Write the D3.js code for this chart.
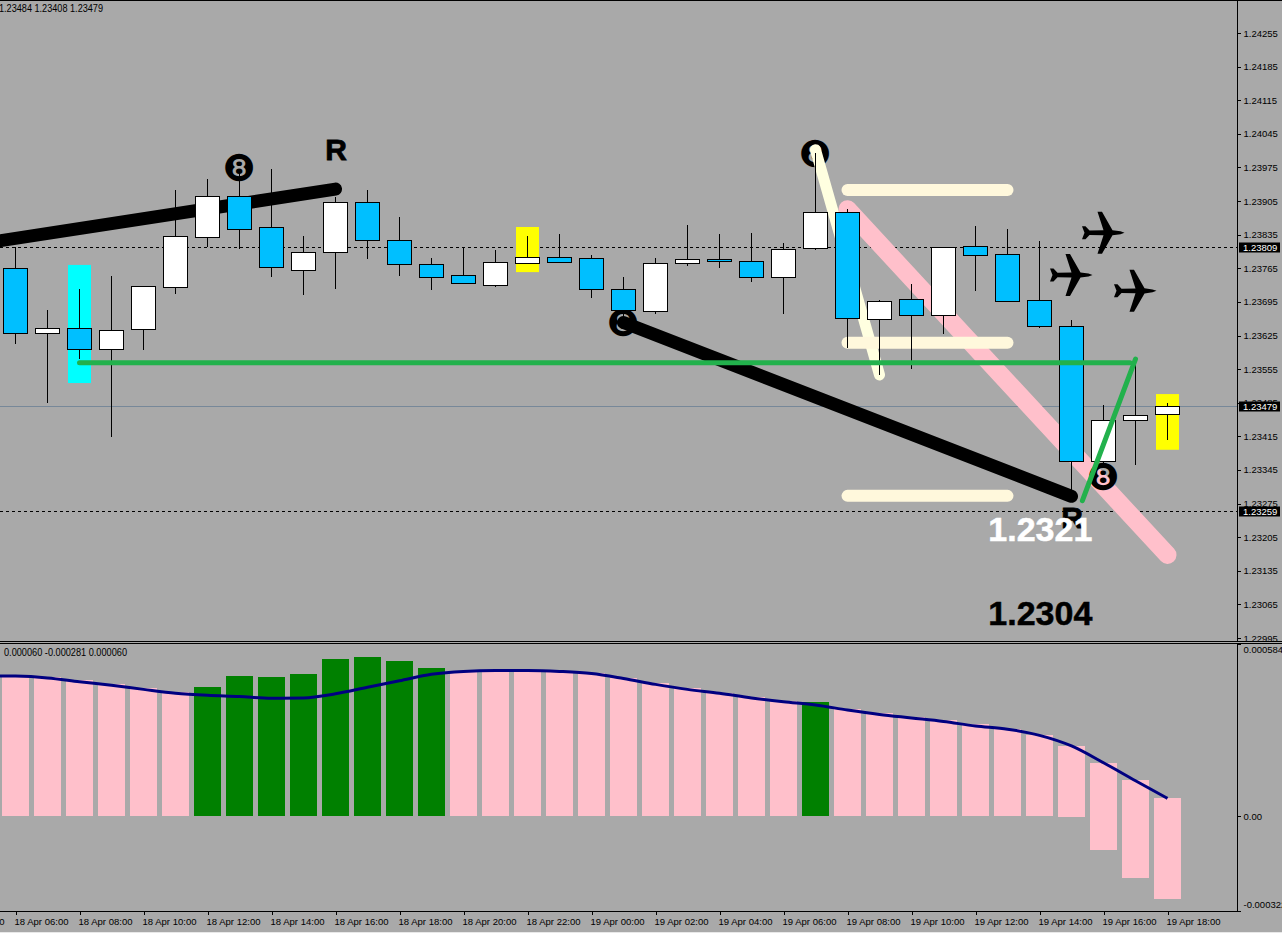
<!DOCTYPE html>
<html><head><meta charset="utf-8">
<script src="https://cdnjs.cloudflare.com/ajax/libs/d3/7.8.5/d3.min.js"></script>
<style>html,body{margin:0;padding:0;background:#A9A9A9;overflow:hidden}svg{display:block}</style>
</head><body><div id="c"></div>
<script>
const opens  = [1.23766,1.23630,1.23641,1.23597,1.23639,1.23726,1.23830,1.23915,1.23851,1.23761,1.23799,1.23903,1.23824,1.23774,1.23751,1.23730,1.23776,1.23788,1.23786,1.23722,1.23676,1.23776,1.23784,1.23780,1.23747,1.23807,1.23882,1.23659,1.23701,1.23668,1.23811,1.23795,1.23699,1.23645,1.23364,1.23449,1.23462];
const highs  = [1.23809,1.23678,1.23722,1.23749,1.23728,1.23928,1.23951,1.23965,1.23971,1.23832,1.23913,1.23928,1.23872,1.23786,1.23809,1.23803,1.23832,1.23836,1.23793,1.23747,1.23786,1.23855,1.23836,1.23838,1.23818,1.24005,1.23888,1.23699,1.23732,1.23809,1.23853,1.23847,1.23822,1.23657,1.23481,1.23574,1.23484];
const lows   = [1.23607,1.23485,1.23576,1.23414,1.23595,1.23711,1.23809,1.23805,1.23747,1.23709,1.23722,1.23784,1.23749,1.23720,1.23734,1.23726,1.23774,1.23778,1.23703,1.23664,1.23670,1.23770,1.23766,1.23736,1.23670,1.23803,1.23599,1.23543,1.23555,1.23628,1.23718,1.23697,1.23641,1.23297,1.23356,1.23356,1.23408];
const closes = [1.23630,1.23640,1.23597,1.23637,1.23728,1.23832,1.23915,1.23847,1.23768,1.23799,1.23903,1.23824,1.23774,1.23747,1.23735,1.23778,1.23788,1.23779,1.23722,1.23678,1.23776,1.23784,1.23780,1.23747,1.23805,1.23882,1.23662,1.23697,1.23668,1.23809,1.23793,1.23697,1.23645,1.23364,1.23449,1.23460,1.23479];

const histTop = [.000478,.000472,.000461,.000448,.000434,.000421,.000438,.000475,.000472,.000482,.000533,.000539,.000526,.000502,.000489,.000495,.000495,.000492,.000485,.000468,.000451,.000434,.000418,.000404,.000390,.000387,.000363,.000349,.000337,.000326,.000312,.000295,.000275,.000238,.000180,.000122,.000060];
const histBottom = [0,0,0,0,0,0,0,0,0,0,0,0,0,0,0,0,0,0,0,0,0,0,0,0,0,0,0,0,0,0,0,0,0,-.000004,-.000116,-.000210,-.000281];
const signal = [.000475,.000469,.000456,.000444,.000430,.000417,.000410,.000406,.000400,.000401,.000415,.000437,.000459,.000481,.000491,.000494,.000494,.000491,.000484,.000467,.000447,.000430,.000417,.000401,.000388,.000377,.000360,.000345,.000333,.000321,.000306,.000295,.000274,.000238,.000181,.000120,.000060];
const signalBefore = 0.000476;
const greenBars = [6,7,8,9,10,11,12,13,25];

const priceTicks = [1.24255,1.24185,1.24115,1.24045,1.23975,1.23905,1.23835,1.23765,1.23695,1.23625,1.23555,1.23485,1.23415,1.23345,1.23275,1.23205,1.23135,1.23065,1.22995];
const priceTags = [1.23809,1.23479,1.23259];
const indTicks = [0.000584,0,-0.000322];
const timeTickIdx = [-2,0,2,4,6,8,10,12,14,16,18,20,22,24,26,28,30,32,34,36];
const timeLabels = ["18 Apr 04:00","18 Apr 06:00","18 Apr 08:00","18 Apr 10:00","18 Apr 12:00","18 Apr 14:00","18 Apr 16:00","18 Apr 18:00","18 Apr 20:00","18 Apr 22:00","19 Apr 00:00","19 Apr 02:00","19 Apr 04:00","19 Apr 06:00","19 Apr 08:00","19 Apr 10:00","19 Apr 12:00","19 Apr 14:00","19 Apr 16:00","19 Apr 18:00"];

const blackLines = [[-1,1.23817,10,1.23930],[19,1.23652,33,1.23290]];
const pinkLine = [26,1.23888,36,1.23168];
const creamLine = [25,1.24012,27,1.23543];
const creamBars = [[26,1.23928],[26,1.23610],[26,1.23291]];
const greenLevel = [2,1.23568,34.83,1.23568];
const greenSlant = [35,1.23576,33.34,1.23281];
const boxes = [[2,1.23772,1.23526,"#00FFFF"],[16,1.23851,1.23757,"#FFFF00"],[36,1.23503,1.23387,"#FFFF00"]];
const eights = [[7,1.23972],[19,1.23649],[25,1.24003],[34,1.23330]];
const planes = [[34,1.23839],[33,1.23751],[35,1.23718]];
const rMarks = [[10,1.23990],[33,1.23224]];
const bigLabels = [["1.2321",1.23197,"#FFFFFF"],["1.2304",1.23022,"#000000"]];
const quoteLine = "1.23484 1.23408 1.23479";
const indLine = "0.000060 -0.000281 0.000060";

const W = 1282, H = 933;
const BG="#A9A9A9", BLUE="#00BFFF";
const FONT="'Liberation Sans',Arial,sans-serif";
const svg = d3.select("#c").append("svg").attr("width",W).attr("height",H);
svg.append("rect").attr("width",W).attr("height",H).attr("fill",BG);

const x = d3.scaleLinear().domain([0,36]).range([15.5,1167.5]);
const y = d3.scaleLinear().domain([1.24255,1.22995]).range([33,638]);
const yi = d3.scaleLinear().domain([0.000584,-0.000322]).range([644,911]);
const snap = v => Math.round(v)+0.5;

const main = svg.append("g").attr("clip-path","url(#mc)");
svg.append("clipPath").attr("id","mc").append("rect").attr("width",1237).attr("height",641);

// horizontal levels
main.selectAll(".lvl").data([priceTags[0],priceTags[2]]).join("line")
  .attr("x1",0).attr("x2",1237).attr("y1",d=>snap(y(d))).attr("y2",d=>snap(y(d)))
  .attr("stroke","#000").attr("stroke-dasharray","3,3").attr("shape-rendering","crispEdges");
main.append("line").attr("x1",0).attr("x2",1237).attr("y1",snap(y(priceTags[1]))).attr("y2",snap(y(priceTags[1])))
  .attr("stroke","#778899").attr("shape-rendering","crispEdges");

// highlight boxes
main.selectAll(".box").data(boxes).join("rect")
  .attr("x",d=>x(d[0])-11.5).attr("width",23).attr("y",d=>y(d[1])).attr("height",d=>y(d[2])-y(d[1])).attr("fill",d=>d[3]);

const seg = (g,d,color,w)=>g.append("line").attr("x1",x(d[0])).attr("y1",y(d[1])).attr("x2",x(d[2])).attr("y2",y(d[3]))
  .attr("stroke",color).attr("stroke-width",w).attr("stroke-linecap","round");

seg(main,pinkLine,"#FFC0CB",18);

// circled eights
main.selectAll(".e8").data(eights).join("text")
  .attr("x",d=>x(d[0])-0.5).attr("y",d=>y(d[1])).attr("text-anchor","middle").attr("dominant-baseline","central")
  .attr("font-family","'DejaVu Sans'").attr("font-size",37).attr("fill","#000").text("\u277D");

seg(main,creamLine,"#FFFFE0",11);
blackLines.forEach(d=>seg(main,d,"#000",13));
main.selectAll(".cb").data(creamBars).join("line")
  .attr("x1",d=>x(d[0])).attr("x2",d=>x(d[0]+5)).attr("y1",d=>y(d[1])).attr("y2",d=>y(d[1]))
  .attr("stroke","#FFF8DC").attr("stroke-width",12).attr("stroke-linecap","round");

// candles
const idx = d3.range(opens.length);
const cg = main.append("g").attr("shape-rendering","crispEdges");
cg.selectAll(".w").data(idx).join("line")
  .attr("x1",i=>x(i)).attr("x2",i=>x(i)).attr("y1",i=>y(highs[i])).attr("y2",i=>y(lows[i])).attr("stroke","#000");
cg.selectAll(".b").data(idx).join("rect")
  .attr("x",i=>x(i)-12).attr("width",24)
  .attr("y",i=>snap(y(Math.max(opens[i],closes[i]))))
  .attr("height",i=>Math.max(1,snap(y(Math.min(opens[i],closes[i])))-snap(y(Math.max(opens[i],closes[i])))))
  .attr("fill",i=>closes[i]>=opens[i]?"#FFF":BLUE).attr("stroke","#000");

// green lines
seg(main,greenLevel,"#22B14C",5);
seg(main,greenSlant,"#22B14C",5);

// planes
const planePath = "M21,0 L17,-1.4 L9,-2.6 L-1.5,-21 L-6,-21 L0,-2.4 L-14,-2.2 L-18,-6.5 L-21.5,-6.5 L-19,0 L-21.5,6.5 L-18,6.5 L-14,2.2 L0,2.4 L-6,21 L-1.5,21 L9,2.6 L17,1.4 Z";
main.selectAll(".pl").data(planes).join("path").attr("d",planePath)
  .attr("transform",d=>`translate(${x(d[0])},${y(d[1])})`).attr("fill","#000");

// R marks
main.selectAll(".r").data(rMarks).join("text")
  .attr("x",d=>x(d[0])+0.5).attr("y",d=>y(d[1])).attr("text-anchor","middle")
  .attr("font-family",FONT).attr("font-weight","bold").attr("font-size",30).attr("fill","#000")
  .attr("stroke","#000").attr("stroke-width",0.8).text("R");

// big labels
main.selectAll(".big").data(bigLabels).join("text")
  .attr("x",x(30.4)).attr("y",d=>y(d[1])).attr("font-family",FONT).attr("font-weight","bold").attr("font-size",34)
  .attr("fill",d=>d[2]).attr("stroke",d=>d[2]).attr("stroke-width",0.5).text(d=>d[0]);

// price axis
const pAxis = d3.axisRight(y).tickValues(priceTicks).tickFormat(d3.format(".5f")).tickSize(3).tickPadding(3);
const pg = svg.append("g").attr("transform","translate(1237.5,0)").call(pAxis);
pg.select(".domain").remove();
pg.selectAll("text").attr("font-family",FONT).attr("font-size",9.5).attr("fill","#000");
pg.selectAll("line").attr("stroke","#000").attr("shape-rendering","crispEdges");

// price tags
const tags = svg.selectAll(".tag").data(priceTags).join("g").attr("transform",d=>`translate(0,${snap(y(d))})`);
tags.append("rect").attr("x",1239).attr("y",-5).attr("width",41).attr("height",10).attr("fill","#000");
tags.append("text").attr("x",1243).attr("y",0).attr("dy","0.34em").attr("font-family",FONT).attr("font-size",9.5).attr("fill","#FFF").text(d=>d3.format(".5f")(d));

// indicator histogram
const ind = svg.append("g").attr("shape-rendering","crispEdges");
ind.selectAll("rect").data(idx).join("rect")
  .attr("x",i=>x(i)-13.5).attr("width",27)
  .attr("y",i=>yi(histTop[i])).attr("height",i=>yi(histBottom[i])-yi(histTop[i]))
  .attr("fill",i=>greenBars.includes(i)?"#008000":"#FFC0CB");
const sigPts = [[-1,signalBefore]].concat(idx.map(i=>[i,signal[i]]));
svg.append("path").attr("fill","none").attr("stroke","#000080").attr("stroke-width",3)
  .attr("d",d3.line().x(d=>x(d[0])).y(d=>yi(d[1])).curve(d3.curveMonotoneX)(sigPts));

// indicator axis
const iAxis = d3.axisRight(yi).tickValues(indTicks).tickSize(3).tickPadding(3)
  .tickFormat(d=>d===0?"0.00":d3.format(".6f")(d).replace("\u2212","-"));
const ig = svg.append("g").attr("transform","translate(1237.5,0)").call(iAxis);
ig.select(".domain").remove();
ig.selectAll("text").attr("font-family",FONT).attr("font-size",9.5).attr("fill","#000")
  .attr("dy",d=>d>0?"0.85em":d<0?"-0.4em":"0.34em");
ig.selectAll("line").attr("stroke","#000").attr("shape-rendering","crispEdges");

// time axis
const tAxis = d3.axisBottom(x).tickValues(timeTickIdx).tickSize(3).tickPadding(4).tickFormat(d=>timeLabels[timeTickIdx.indexOf(d)]);
const tg = svg.append("g").attr("transform","translate(0,911.5)").call(tAxis);
tg.select(".domain").remove();
tg.selectAll("text").attr("text-anchor","start").attr("dx",-1.5).attr("font-family",FONT).attr("font-size",9.5)
  .attr("fill","#000").attr("textLength",54).attr("lengthAdjust","spacingAndGlyphs");
tg.selectAll("line").attr("stroke","#000").attr("shape-rendering","crispEdges");

// frame
const frame = svg.append("g").attr("stroke","#000").attr("shape-rendering","crispEdges");
[[0,0.5,1282,0.5],[0,641.5,1282,641.5],[0,643.5,1282,643.5],[0,911.5,1241,911.5],[1237.5,0,1237.5,641],[1237.5,643,1237.5,912]]
  .forEach(d=>frame.append("line").attr("x1",d[0]).attr("y1",d[1]).attr("x2",d[2]).attr("y2",d[3]));
svg.append("rect").attr("x",0).attr("y",932).attr("width",W).attr("height",1).attr("fill","#E8E8E8");

// legends
svg.append("text").attr("x",-1).attr("y",11.5).attr("font-family",FONT).attr("font-size",10).attr("fill","#000")
  .attr("textLength",104).attr("lengthAdjust","spacingAndGlyphs").text(quoteLine);
svg.append("text").attr("x",4).attr("y",656).attr("font-family",FONT).attr("font-size",10).attr("fill","#000")
  .attr("textLength",123).attr("lengthAdjust","spacingAndGlyphs").text(indLine);
</script></body></html>
